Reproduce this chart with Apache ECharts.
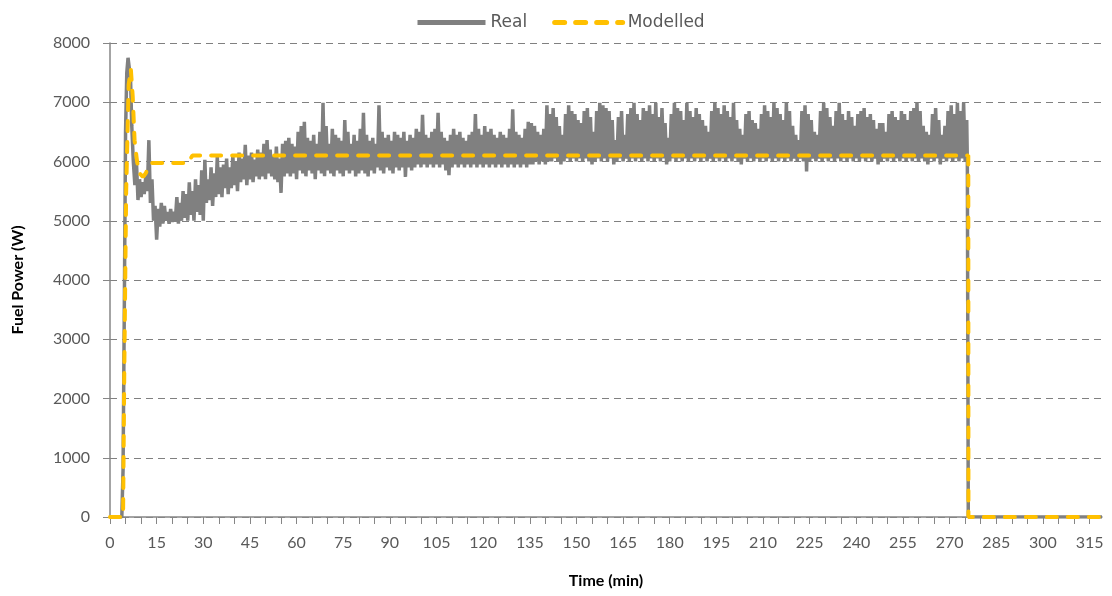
<!DOCTYPE html>
<html>
<head>
<meta charset="utf-8">
<title>Fuel Power</title>
<script src="https://cdn.jsdelivr.net/npm/echarts@6/dist/echarts.min.js"></script>
<style>
  html, body { margin: 0; padding: 0; background: #fff; }
  #chart { width: 1112px; height: 596px; }
</style>
</head>
<body>
<div id="chart"></div>
<script>
// start-up of the real measurement (min, W)
const realStartT = [0, 3.8, 4.2, 4.6, 5.0, 5.4, 5.8, 6.2, 6.6, 7.0, 7.5];
const realStartW = [0, 0, 800, 3500, 6500, 7500, 7750, 7780, 7400, 6600, 6000];

// per-minute trough / peak of the real signal, minutes 8..275
const realLow = [
    5600,5350,5400,5450,5500,5300,5000,4680,4900,4950,
    5000,4950,4980,5000,4950,5000,5050,5000,5100,5000,
    5150,5100,5000,5300,5350,5250,5400,5450,5400,5550,
    5450,5550,5600,5500,5650,5700,5600,5700,5650,5750,
    5700,5750,5700,5800,5750,5700,5650,5470,5750,5800,
    5750,5800,5700,5850,5800,5750,5850,5800,5700,5850,
    5800,5750,5850,5800,5750,5850,5800,5750,5850,5800,
    5850,5750,5800,5850,5800,5750,5850,5800,5900,5850,
    5800,5900,5850,5800,5900,5850,5900,5740,5900,5850,
    5900,5950,5900,5950,5900,5950,5900,5950,5900,5950,
    5850,5770,5900,5950,5900,5950,5900,5950,5900,5950,
    5900,5950,5900,5950,5900,5950,5900,5950,5900,5950,
    5900,5950,5900,5950,5900,5950,5900,5950,5950,6000,
    5950,6000,5950,6000,6000,6050,6000,5950,6000,6050,
    6000,6050,6000,6050,6000,6050,6000,5950,6000,6050,
    6000,6050,6000,6050,5950,6000,6050,6000,6050,6000,
    6050,6000,6050,6000,6050,6000,6050,6000,6050,6000,
    6050,5950,6000,6050,6000,6050,6000,6050,6000,6050,
    6000,6050,6000,6050,6000,6050,6000,6050,6000,6050,
    6000,6050,6000,6050,6000,5950,6050,6000,6050,6000,
    6050,6000,6050,6000,6050,6000,6050,6000,6050,6000,
    6050,6000,6050,6000,6050,6000,5830,6000,6050,6000,
    6050,6000,6050,6000,6050,6000,6050,6000,6050,6000,
    6050,6000,6050,6000,6050,6000,6050,6000,6050,5950,
    6000,6050,6000,6050,6000,6050,6000,6050,6000,6050,
    6000,6050,6000,6050,6000,5950,6050,6000,6050,5950,
    6050,6000,6050,6000,6050,6000,6050,6000
];
const realHigh = [
    6000,5700,5650,5750,6360,5700,5250,5200,5300,5250,
    5150,5200,5150,5400,5300,5500,5450,5650,5500,5700,
    5600,5850,6030,5700,5900,5800,6080,5900,5950,6050,
    5900,6100,6000,6150,6050,6280,6100,6150,6030,6200,
    6150,6300,6360,6200,6100,6250,6050,6300,6350,6400,
    6300,6250,6500,6600,6670,6400,6350,6450,6300,6500,
    6990,6600,6300,6550,6450,6400,6350,6700,6500,6300,
    6450,6350,6550,6820,6450,6350,6400,6300,6950,6500,
    6400,6450,6350,6500,6450,6400,6500,6350,6450,6400,
    6550,6500,6790,6450,6400,6500,6550,6820,6500,6400,
    6350,6450,6550,6450,6500,6400,6350,6450,6500,6800,
    6550,6450,6600,6500,6550,6450,6400,6500,6450,6400,
    6550,6880,6500,6450,6400,6550,6670,6650,6600,6500,
    6450,6550,6950,6800,6900,6750,6600,6450,6800,6950,
    6850,6800,6700,6650,6850,6900,6750,6500,6850,6990,
    6950,6900,6850,6700,6360,6750,6850,6450,6800,6900,
    6990,6800,6700,6900,6850,6950,6800,6990,6750,6900,
    6650,6400,6800,6990,6900,6850,6700,6990,6850,6750,
    6900,6800,6700,6600,6500,6850,6990,6900,6800,6950,
    6850,6750,6990,6700,6550,6450,6800,6850,6700,6650,
    6550,6800,6950,6850,6750,6990,6900,6800,6700,6990,
    6850,6600,6450,6360,6850,6950,6800,6700,6500,6450,
    6850,6990,6900,6750,6600,6850,6990,6800,6700,6850,
    6750,6600,6800,6850,6900,6750,6800,6700,6550,6650,
    6650,6500,6800,6850,6750,6700,6850,6800,6700,6850,
    6900,6990,6850,6600,6500,6450,6800,6900,6700,6450,
    6600,6850,6950,6800,6990,6850,6990,6700
];
const realFirstMinute = 8;
// shut-down of the real measurement
const realEndT = [275.7, 276, 319];
const realEndW = [6000, 0, 0];

// modelled fuel power (min, W)
const modelT = [0, 4.2, 4.6, 5.2, 6.0, 6.7, 7.3, 7.9, 8.7, 9.5, 10.6, 11.5, 12.2, 13.4, 25, 26.5, 276, 276.05, 319];
const modelW = [0, 0, 2500, 5500, 7300, 7560, 7100, 6360, 6000, 5800, 5740, 5800, 5890, 5975, 5975, 6100, 6100, 0, 0];

// axis ticks
const xTicks = [];
for (let m = 0; m <= 315; m += 5) xTicks.push(m);
const xLabels = xTicks.filter(m => m % 15 === 0);

// build series data
const realData = [];
realStartT.forEach((t, i) => realData.push([t, realStartW[i]]));
realLow.forEach((lo, i) => {
    const t = realFirstMinute + i;
    realData.push([t, lo]);
    realData.push([t + 0.5, realHigh[i]]);
});
realEndT.forEach((t, i) => realData.push([t, realEndW[i]]));

const modelData = modelT.map((t, i) => [t, modelW[i]]);

const chart = echarts.init(document.getElementById('chart'));
const axisGrey = '#868686';
const textGrey = '#595959';
const font = 'Lato, "Open Sans", sans-serif';

chart.setOption({
    animation: false,
    backgroundColor: '#fff',
    legend: {
        top: 9,
        left: 410,
        itemWidth: 68,
        itemHeight: 8,
        itemGap: 25,
        itemStyle: { opacity: 0 },
        lineStyle: { width: 5 },
        textStyle: { color: textGrey, fontSize: 17, fontFamily: '"DejaVu Sans", sans-serif' },
        data: ['Real', 'Modelled']
    },
    grid: {
        left: 110,
        right: 10,
        top: 43,
        bottom: 79
    },
    xAxis: {
        type: 'value',
        min: 0,
        max: 319,
        interval: 5,
        name: 'Time (min)',
        nameLocation: 'middle',
        nameGap: 56,
        nameTextStyle: { color: '#000', fontSize: 16, fontWeight: 'bold', fontFamily: font },
        axisLine: { show: true, lineStyle: { color: axisGrey, width: 1.5 } },
        axisTick: { show: true, length: 7, customValues: xTicks, lineStyle: { color: axisGrey } },
        axisLabel: {
            customValues: xLabels,
            color: textGrey,
            fontSize: 16,
            fontFamily: font,
            margin: 18
        },
        splitLine: { show: false }
    },
    yAxis: {
        type: 'value',
        min: 0,
        max: 8000,
        interval: 1000,
        name: 'Fuel Power (W)',
        nameLocation: 'middle',
        nameGap: 84,
        nameTextStyle: { color: '#000', fontSize: 16, fontWeight: 'bold', fontFamily: font },
        axisLine: { show: true, lineStyle: { color: axisGrey, width: 1.5 } },
        axisTick: { show: true, length: 7, lineStyle: { color: axisGrey } },
        axisLabel: {
            color: textGrey,
            fontSize: 16,
            fontFamily: font,
            margin: 20,
            formatter: v => String(v)
        },
        splitLine: { lineStyle: { color: '#808080', type: [7, 5], width: 1 } }
    },
    series: [
        {
            name: 'Real',
            type: 'line',
            data: realData,
            showSymbol: false,
            symbol: 'none',
            color: '#808080',
            lineStyle: { color: '#808080', width: 3.5 },
            z: 2
        },
        {
            name: 'Modelled',
            type: 'line',
            data: modelData,
            showSymbol: false,
            symbol: 'none',
            color: '#FFC000',
            lineStyle: { color: '#FFC000', width: 4, type: [10, 11], cap: 'round' },
            z: 3
        }
    ]
});
</script>
</body>
</html>
